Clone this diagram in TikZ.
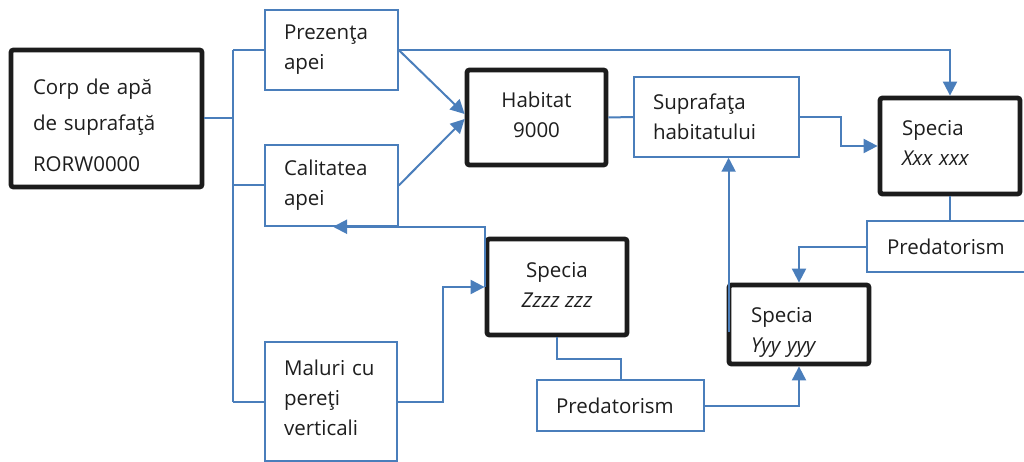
\documentclass[tikz,border=0pt]{standalone}
\usepackage{fontspec}
\setmainfont{Open Sans}
\usetikzlibrary{arrows.meta,calc}
\definecolor{linkblue}{HTML}{4A7EBB}
\definecolor{inkgray}{HTML}{1E1E1E}
\definecolor{heavyink}{HTML}{1C1C1C}
% invisible struts that nudge a text block inside its box
\newcommand\padtop[1]{\rule{0pt}{#1}}
\newcommand\padbot[1]{\rule[-#1]{0pt}{0pt}}
\begin{document}
\begin{tikzpicture}[x=1pt,y=-1pt,
  every node/.style={font=\fontsize{20.5}{30}\selectfont, text=inkgray},
  boxbase/.style={rectangle, inner sep=0pt},
  heavybox/.style={boxbase, draw=heavyink, line width=4.8pt, rounded corners=2.5pt},
  lightbox/.style={boxbase, draw=linkblue, line width=1.5pt},
  link/.style={draw=linkblue, line width=2pt},
  arrowlink/.style={link, -{Triangle[length=14pt,width=14pt]}},
]
\fill[white] (0,0) rectangle (1024,462);
\useasboundingbox (0,0) rectangle (1024,462);

% main water body
\node[heavybox, minimum width=191pt, minimum height=137pt, text width=147pt, align=left]
  (corp) at (106.5,118.5) {\padtop{30pt}Corp de apă\\[6pt]de suprafaţă\\[11pt]RORW0000};

% factor boxes on the left
\node[lightbox, minimum width=133pt, minimum height=80pt, text width=95pt, align=left]
  (prez) at (331.5,50) {Prezenţa\\apei};
\node[lightbox, minimum width=133pt, minimum height=81pt, text width=95pt, align=left]
  (calit) at (331.5,185.5) {Calitatea\\apei};
\node[lightbox, minimum width=132pt, minimum height=119pt, text width=94pt, align=left]
  (maluri) at (331,401.5) {Maluri cu\\pereţi\\verticali\padbot{8pt}};

% habitat and its surface
\node[heavybox, minimum width=139pt, minimum height=95pt, align=center]
  (hab) at (536.5,117.5) {Habitat\\9000\padbot{6pt}};
\node[lightbox, minimum width=165pt, minimum height=80pt, text width=127pt, align=left]
  (supr) at (716.5,117) {Suprafaţa\\habitatului};

% species
\node[heavybox, minimum width=140pt, minimum height=96pt, text width=96pt, align=left]
  (xxx) at (950,146) {Specia\\\textit{Xxx xxx}\padbot{6pt}};
\node[heavybox, minimum width=140pt, minimum height=79pt, text width=96pt, align=left]
  (yyy) at (799,324.5) {\padtop{30pt}Specia\\\textit{Yyy yyy}};
\node[heavybox, minimum width=140pt, minimum height=96pt, align=center]
  (zzz) at (557,287) {Specia\\\textit{Zzzz zzz}\padbot{5pt}};

% predation links
\node[lightbox, minimum width=167pt, minimum height=51pt, text width=129pt, align=left]
  (predB) at (620.5,405.5) {Predatorism};
\node[lightbox, minimum width=167pt, minimum height=51pt, text width=127pt, align=left]
  (predR) at (950.5,246.5) {Predatorism};

% distribution bus from the water body
\coordinate (busTop) at (233,50);
\coordinate (busBot) at (233,402);
\draw[link] (busTop) -- (busBot);
\draw[link] (corp.east) -- (corp.east -| busTop);
\draw[link] (busTop) -- (prez.west);
\draw[link] (calit.west -| busTop) -- (calit.west);
\draw[link] (maluri.west -| busTop) -- (maluri.west);

% water factors feeding the habitat
\draw[arrowlink] (prez.east) -- ($(hab.west)+(0,-3.5)$);
\draw[arrowlink] (calit.east) -- ($(hab.west)+(0,1.5)$);
\draw[arrowlink] (prez.east) -| (xxx.north);

% habitat to species Xxx
\draw[link] (hab.east) -- (supr.west);
\draw[arrowlink] (supr.east) -- ++(41,0) |- (xxx.west);

% Xxx preys on Yyy
\draw[link] (xxx.south) -- (xxx.south |- predR.north);
\draw[arrowlink] (predR.west) -| (yyy.north);
\coordinate (yleft) at ($(yyy.west)+(2,7.5)$);
\draw[arrowlink] (yleft) -- (yleft |- supr.south);

% Zzzz links
\draw[arrowlink] (zzz.west) |- ($(calit.south)+(1.5,0)$);
\draw[arrowlink] (maluri.east) -- ++(45,0) |- (zzz.west);
\draw[link] (zzz.south) -- ++(0,22) -| (predB.north);
\draw[arrowlink] (predB.east) -| (yyy.south);
\end{tikzpicture}
\end{document}
